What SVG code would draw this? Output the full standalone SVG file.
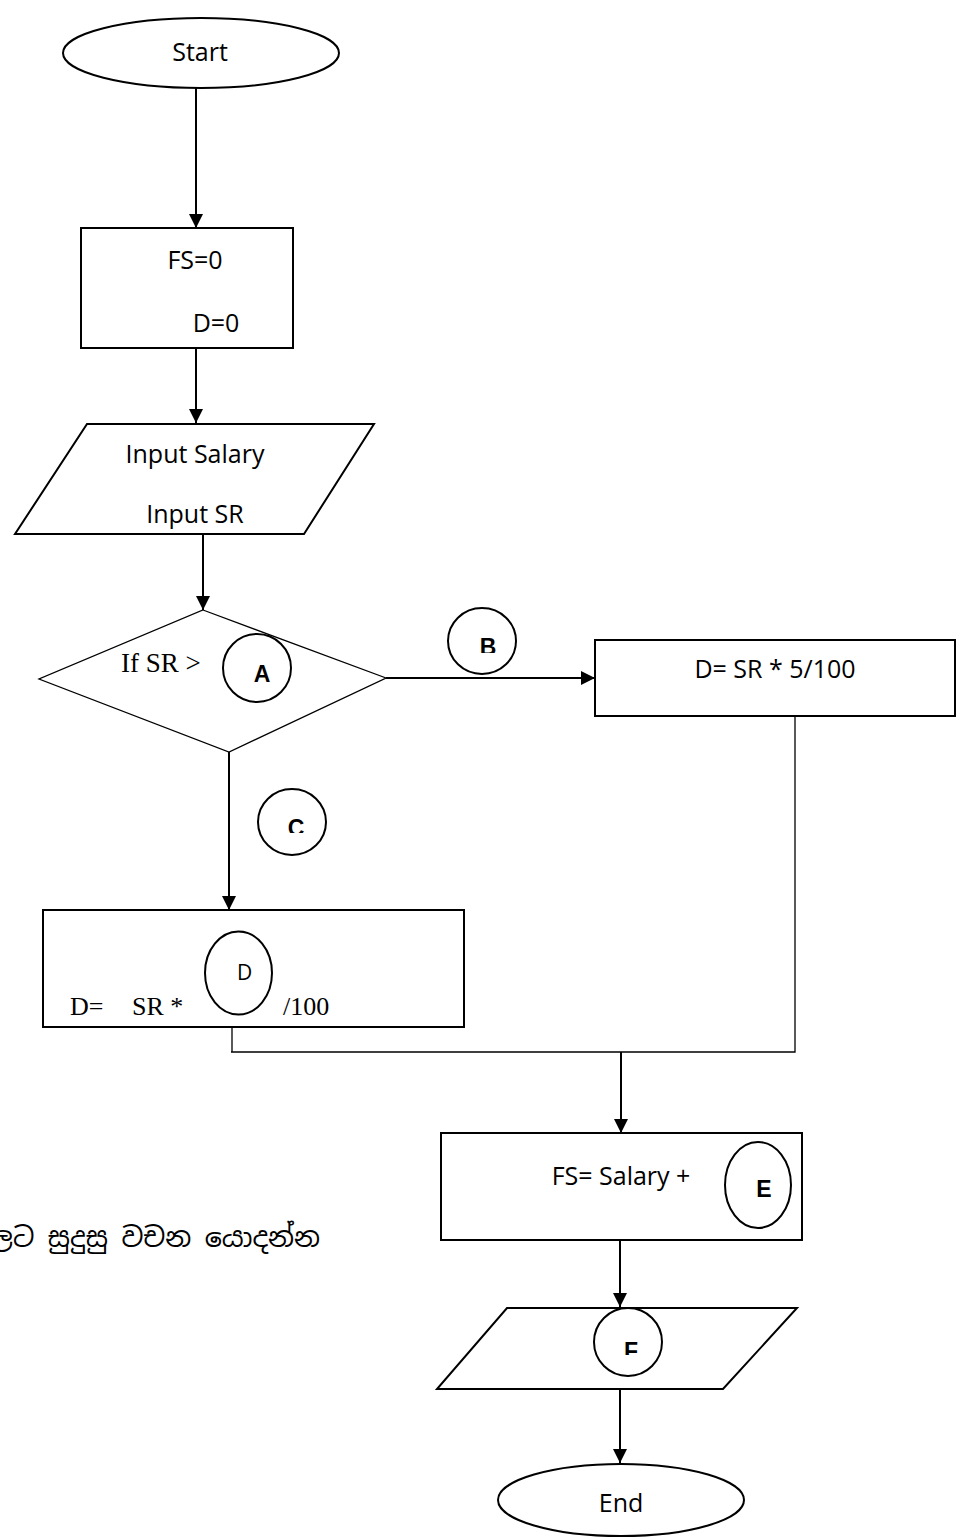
<svg xmlns="http://www.w3.org/2000/svg" width="962" height="1539" viewBox="0 0 962 1539">
<style>
.s{fill:none;stroke:#000;stroke-width:2}
.t{stroke-width:1.3}
.w{fill:#fff;stroke:#000;stroke-width:2}
.c{font-family:"Open Sans","Liberation Sans",sans-serif;font-size:25px;fill:#000}
.r{font-family:"Liberation Serif","Times New Roman",serif;font-size:26px;fill:#000}
.b{font-family:"Liberation Sans",Arial,sans-serif;font-size:23px;font-weight:bold;fill:#000}
.si{font-family:"Noto Sans Sinhala","Noto Serif Sinhala","Iskoola Pota","Noto Sans",sans-serif;font-size:27px;fill:#000}
</style>
<defs>
<marker id="ah2" markerWidth="14" markerHeight="14" refX="14" refY="7" orient="auto" markerUnits="userSpaceOnUse" viewBox="0 0 14 14">
<path d="M0,0 L14,7 L0,14 Z" fill="#000"/>
</marker>
<clipPath id="cB"><rect x="440" y="600" width="90" height="53"/></clipPath>
<clipPath id="cC"><rect x="250" y="780" width="90" height="53"/></clipPath>
<clipPath id="cF"><rect x="580" y="1300" width="100" height="55"/></clipPath>
</defs>

<g id="connectors">
<line class="s" x1="196" y1="88" x2="196" y2="228" marker-end="url(#ah2)"/>
<line class="s" x1="196" y1="348" x2="196" y2="423" marker-end="url(#ah2)"/>
<line class="s" x1="203" y1="534" x2="203" y2="610" marker-end="url(#ah2)"/>
<line class="s" x1="386" y1="678" x2="595" y2="678" marker-end="url(#ah2)"/>
<line class="s" x1="229" y1="752" x2="229" y2="910" marker-end="url(#ah2)"/>
<polyline class="s t" points="795,716 795,1052 231,1052"/>
<line class="s t" x1="232" y1="1027" x2="232" y2="1052"/>
<line class="s" x1="621" y1="1052" x2="621" y2="1133" marker-end="url(#ah2)"/>
<line class="s" x1="620" y1="1228" x2="620" y2="1307" marker-end="url(#ah2)"/>
<line class="s" x1="620" y1="1389" x2="620" y2="1463" marker-end="url(#ah2)"/>
</g>

<g id="start">
<ellipse class="w" cx="201" cy="53" rx="138" ry="35"/>
<text class="c" x="200" y="61" text-anchor="middle">Start</text>
</g>

<g id="init">
<rect class="w" x="81" y="228" width="212" height="120"/>
<text class="c" x="195" y="269" text-anchor="middle">FS=0</text>
<text class="c" x="216" y="332" text-anchor="middle">D=0</text>
</g>

<g id="input">
<polygon class="w" points="87,424 374,424 304,534 15,534"/>
<text class="c" x="195" y="463" text-anchor="middle">Input Salary</text>
<text class="c" x="195" y="523" text-anchor="middle">Input SR</text>
</g>

<g id="decision">
<polygon class="s t" points="203,610 386,678 229,752 39,679"/>
<text class="r" x="121" y="672" style="font-size:27px">If SR &gt;</text>
<ellipse class="s" cx="257" cy="668" rx="34" ry="34"/>
<text class="b" x="262" y="682" text-anchor="middle">A</text>
</g>

<g id="labelB">
<ellipse class="s" cx="482" cy="641" rx="34" ry="33"/>
<text class="b" x="488" y="655" text-anchor="middle" clip-path="url(#cB)">B</text>
</g>

<g id="box5">
<rect class="w" x="595" y="640" width="360" height="76"/>
<text class="c" x="775" y="678" text-anchor="middle">D= SR * 5/100</text>
</g>

<g id="labelC">
<ellipse class="s" cx="292" cy="822" rx="34" ry="33"/>
<text class="b" x="296" y="836" text-anchor="middle" clip-path="url(#cC)">C</text>
</g>

<g id="boxD">
<rect class="w" x="43" y="910" width="421" height="117"/>
<text class="r" x="70" y="1015">D=</text>
<text class="r" x="132" y="1015">SR *</text>
<ellipse class="s" cx="238.5" cy="973" rx="33.5" ry="41.5"/>
<text class="c" x="244.5" y="980" text-anchor="middle" style="font-size:21px">D</text>
<text class="r" x="283" y="1015">/100</text>
</g>

<g id="boxFS">
<rect class="w" x="441" y="1133" width="361" height="107"/>
<text class="c" x="621" y="1185" text-anchor="middle">FS= Salary +</text>
<ellipse class="s" cx="758" cy="1185" rx="33" ry="43"/>
<text class="b" x="764" y="1197" text-anchor="middle">E</text>
</g>

<g id="output">
<polygon class="w" points="507,1308 797,1308 723,1389 437,1389"/>
<ellipse class="s" cx="628" cy="1342" rx="34" ry="34"/>
<text class="b" x="631" y="1359" text-anchor="middle" clip-path="url(#cF)">F</text>
</g>

<g id="end">
<ellipse class="w" cx="621" cy="1500" rx="123" ry="36"/>
<text class="c" x="621" y="1512" text-anchor="middle">End</text>
</g>

<text class="si" x="320" y="1247" text-anchor="end">හිස්තැන්වලට සුදුසු වචන යොදන්න</text>
</svg>
